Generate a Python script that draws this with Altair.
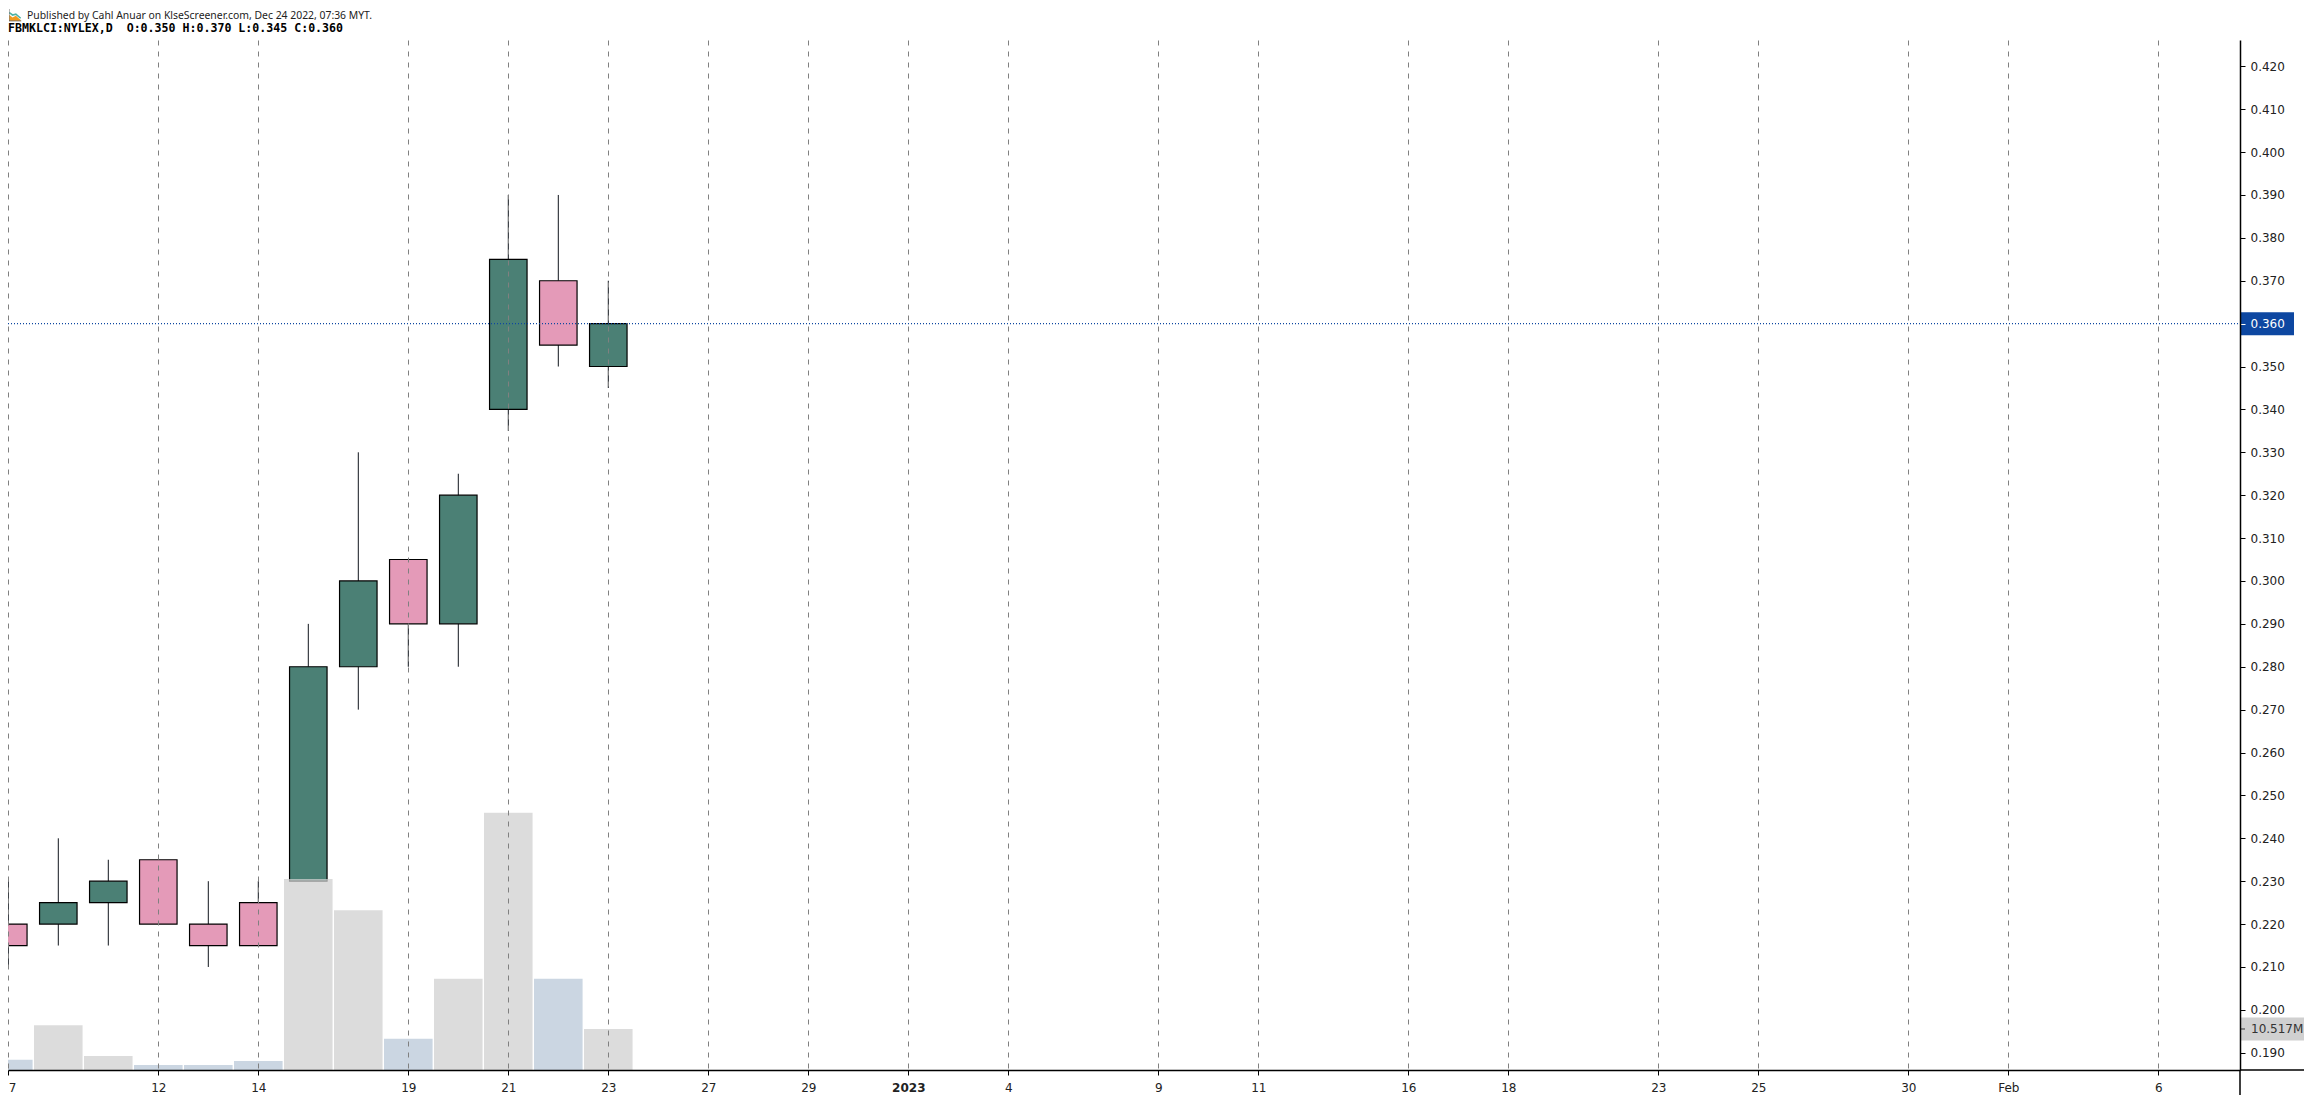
import altair as alt
import pandas as pd
from urllib.parse import quote as urlquote

# Trading-day candles, Dec 2022 (index = trading-day position on the axis)
days = ["Dec 7", "Dec 8", "Dec 9", "Dec 12", "Dec 13", "Dec 14", "Dec 15", "Dec 16", "Dec 19", "Dec 20", "Dec 21", "Dec 22", "Dec 23"]
index = [0, 1, 2, 3, 4, 5, 6, 7, 8, 9, 10, 11, 12]
opens = [0.220, 0.220, 0.225, 0.235, 0.220, 0.225, 0.230, 0.280, 0.305, 0.290, 0.340, 0.370, 0.350]
highs = [0.230, 0.240, 0.235, 0.235, 0.230, 0.230, 0.290, 0.330, 0.305, 0.325, 0.390, 0.390, 0.370]
lows = [0.210, 0.215, 0.215, 0.220, 0.210, 0.215, 0.230, 0.270, 0.280, 0.280, 0.335, 0.350, 0.345]
closes = [0.215, 0.225, 0.230, 0.220, 0.215, 0.215, 0.280, 0.300, 0.290, 0.320, 0.375, 0.355, 0.360]
volumes = [2.6, 11.5, 3.6, 1.3, 1.3, 2.3, 49.0, 41.0, 8.0, 23.4, 66.0, 23.4, 10.517]

tick_index = [0, 3, 5, 8, 10, 12, 14, 16, 18, 20, 23, 25, 28, 30, 33, 35, 38, 40, 43]
tick_labels = ["7", "12", "14", "19", "21", "23", "27", "29", "2023", "4", "9", "11", "16", "18", "23", "25", "30", "Feb", "6"]
price_ticks = [0.19, 0.20, 0.21, 0.22, 0.23, 0.24, 0.25, 0.26, 0.27, 0.28, 0.29, 0.30, 0.31, 0.32, 0.33, 0.34, 0.35, 0.36, 0.37, 0.38, 0.39, 0.40, 0.41, 0.42]

header_line = "Published by Cahl Anuar on KlseScreener.com, Dec 24 2022, 07:36 MYT."
quote_line = "FBMKLCI:NYLEX,D\u00a0\u00a0O:0.350 H:0.370 L:0.345 C:0.360"
last_price = 0.360
last_volume = 10.517

FONT = "DejaVu Sans"
PLOT_W = 2232
PLOT_H = 1030
PAD_RIGHT = 64
PAD_BOTTOM = 25

df = pd.DataFrame({"day": days, "i": index, "o": opens, "h": highs, "l": lows, "c": closes, "v": volumes})
df["top"] = df[["o", "c"]].max(axis=1)
df["bot"] = df[["o", "c"]].min(axis=1)
df["dir"] = ["up" if c >= o else "down" for o, c in zip(opens, closes)]

x_scale = alt.Scale(domain=[-0.006, 44.634], nice=False, zero=False, padding=0)
y_scale = alt.Scale(domain=[0.18598, 0.42613], nice=False, zero=False, padding=0)
vol_scale = alt.Scale(domain=[0, 264.2], nice=False, zero=False, padding=0)
candle_scale = alt.Scale(domain=["up", "down"], range=["#2c6a5d", "#df88ab"])
volume_color = alt.Scale(domain=["up", "down"], range=["#d0d0d0", "#b9c8d8"])

labels_expr = "[" + ",".join(f"'{t}'" for t in tick_labels) + "][indexof([" + ",".join(str(t) for t in tick_index) + "],datum.value)]"
x_axis = alt.Axis(
    values=tick_index, labelExpr=labels_expr, title=None, grid=True,
    gridColor="#808080", gridDash=[5, 6], gridWidth=1,
    domainColor="#000000", domainWidth=1.5, tickColor="#000000", tickSize=5, tickWidth=1,
    labelFont=FONT, labelFontSize=12, labelColor="#222222", labelPadding=7,
    labelOverlap=False, labelFlush=False, labelBound=False, zindex=1,
    labelAlign={"condition": {"test": "datum.value==0", "value": "left"}, "value": "center"},
    labelFontWeight={"condition": {"test": "datum.value==18", "value": "bold"}, "value": "normal"},
)
y_axis = alt.Axis(
    orient="right", values=price_ticks, format=".3f", title=None, grid=False,
    domainColor="#000000", domainWidth=1.5, tickSize=5, tickWidth=1,
    tickColor={"condition": {"test": "abs(datum.value-0.36)<0.0001", "value": "#ffffff"}, "value": "#000000"},
    labelColor={"condition": {"test": "abs(datum.value-0.36)<0.0001", "value": "#ffffff"}, "value": "#222222"},
    labelFont=FONT, labelFontSize=12, labelPadding=5,
    labelOverlap=False, labelFlush=False, labelBound=False, zindex=1,
)
X = alt.X("i:Q", scale=x_scale, axis=x_axis)


def YP(field, axis=None):
    return alt.Y(field, type="quantitative", scale=y_scale, axis=axis)


base = alt.Chart(df)
wick_up = base.mark_rule(color="#10141c", strokeWidth=1).encode(x=X, y=YP("h", y_axis), y2="top:Q")
wick_dn = base.mark_rule(color="#10141c", strokeWidth=1).encode(x=X, y=YP("bot"), y2="l:Q")
body = base.mark_bar(size=37.5, orient="vertical", fillOpacity=0.85, stroke="#000000", strokeWidth=1.2).encode(
    x=X, y=YP("top"), y2="bot:Q", fill=alt.Fill("dir:N", legend=None, scale=candle_scale)
)
vol = base.mark_bar(size=48.6, orient="vertical", opacity=0.74).encode(
    x=X,
    y=alt.Y("v:Q", scale=vol_scale, axis=None),
    fill=alt.Fill("dir:N", legend=None, scale=volume_color),
)

last_df = pd.DataFrame({"p": [last_price], "v": [last_volume], "pl": [f"{last_price:.3f}"], "vl": [f"{last_volume:.3f}M"]})
last_base = alt.Chart(last_df)
price_line = last_base.mark_rule(color="#0d47a1", strokeWidth=1.2, strokeDash=[1, 2]).encode(
    y=YP("p"), x=alt.value(0), x2=alt.value(PLOT_W)
)
price_tag = last_base.mark_bar(orient="horizontal", size=23, color="#0d47a1").encode(
    y=YP("p"), x=alt.value(PLOT_W), x2=alt.value(PLOT_W + 54)
)
vol_tag = last_base.mark_bar(orient="horizontal", size=23, color="#d0d0d0").encode(
    y=alt.Y("v:Q", scale=vol_scale, axis=None), x=alt.value(PLOT_W), x2=alt.value(PLOT_W + PAD_RIGHT)
)
vol_text = last_base.mark_text(align="left", baseline="middle", font=FONT, fontSize=12, color="#333333").encode(
    y=alt.Y("v:Q", scale=vol_scale, axis=None), x=alt.value(PLOT_W + 11), text="vl:N"
)
vol_tick = last_base.mark_rule(color="#333333", strokeWidth=1).encode(
    y=alt.Y("v:Q", scale=vol_scale, axis=None), x=alt.value(PLOT_W), x2=alt.value(PLOT_W + 5)
)

header = alt.Chart(pd.DataFrame({"t": [header_line]})).mark_text(
    align="left", baseline="middle", font="Noto Sans", fontSize=10.4, color="#222222"
).encode(x=alt.value(19), y=alt.value(-24), text="t:N")
quote = alt.Chart(pd.DataFrame({"t": [quote_line]})).mark_text(
    align="left", baseline="middle", font="DejaVu Sans Mono", fontSize=11.6, fontWeight="bold", color="#000000"
).encode(x=alt.value(0), y=alt.value(-11), text="t:N")

logo_svg = (
    "<svg xmlns='http://www.w3.org/2000/svg' viewBox='0 0 16 16'>"
    "<rect width='16' height='16' fill='#ffffff'/>"
    "<path d='M1 15V8L5 11L9 9L15 14V15Z' fill='#f29a1f'/>"
    "<path d='M1 5L5 8L9 7L15 12' fill='none' stroke='#4fb3a5' stroke-width='2'/>"
    "<path d='M0.5 0V15.5H16' fill='none' stroke='#222222' stroke-width='1'/>"
    "</svg>"
)
logo = alt.Chart(pd.DataFrame({"u": ["data:image/svg+xml," + urlquote(logo_svg)]})).mark_image(
    width=13, height=13
).encode(x=alt.value(7), y=alt.value(-25), url="u:N")

axis_down = alt.Chart(pd.DataFrame({"a": [0]})).mark_rule(color="#000000", strokeWidth=1.5).encode(
    x=alt.value(PLOT_W), y=alt.value(PLOT_H), y2=alt.value(PLOT_H + PAD_BOTTOM)
)
axis_right = alt.Chart(pd.DataFrame({"a": [0]})).mark_rule(color="#000000", strokeWidth=1.5).encode(
    x=alt.value(PLOT_W), x2=alt.value(PLOT_W + PAD_RIGHT), y=alt.value(PLOT_H)
)

chart = alt.layer(
    wick_up, wick_dn, body, vol, price_line, price_tag, vol_tag, vol_tick, vol_text,
    header, quote, logo, axis_down, axis_right,
).resolve_scale(y="independent", fill="independent").properties(
    width=PLOT_W, height=PLOT_H,
    padding={"left": 0, "top": 32, "right": PAD_RIGHT, "bottom": PAD_BOTTOM},
    autosize=alt.AutoSizeParams(type="none"),
    background="#ffffff",
).configure_view(stroke=None)

chart.save("out.html", embed_options={"renderer": "svg", "actions": False})
